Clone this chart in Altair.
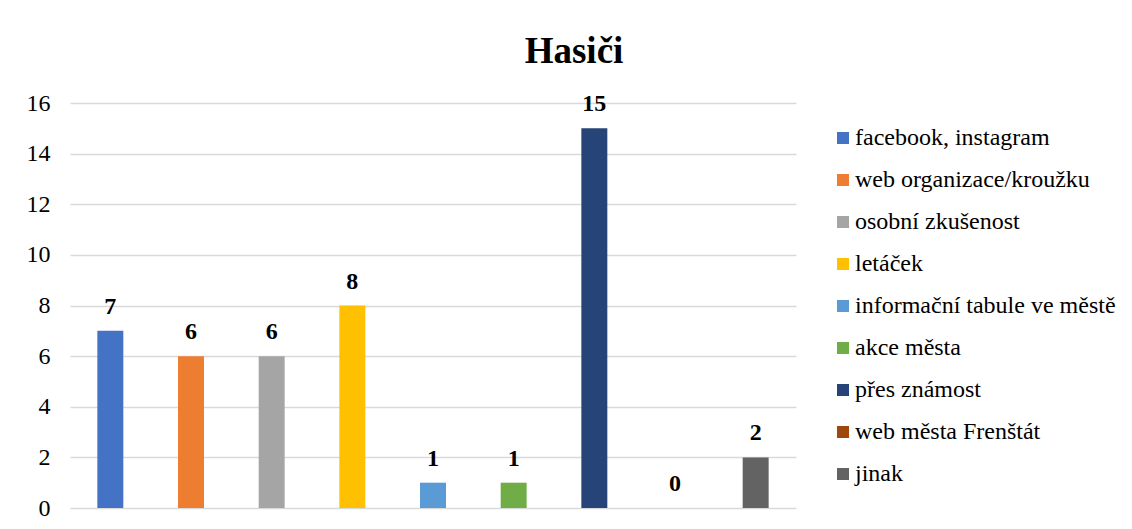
import altair as alt
import pandas as pd

categories = ["facebook, instagram", "web organizace/kroužku", "osobní zkušenost", "letáček",
              "informační tabule ve městě", "akce města", "přes známost", "web města Frenštát", "jinak"]
values = [7, 6, 6, 8, 1, 1, 15, 0, 2]
colors = ["#4472C4", "#ED7D31", "#A5A5A5", "#FFC000", "#5B9BD5", "#70AD47", "#264478", "#9E480E", "#636363"]
y_ticks = [0, 2, 4, 6, 8, 10, 12, 14, 16]

df = pd.DataFrame({"kategorie": categories, "pocet": values})

FONT = "Liberation Serif"

x = alt.X("kategorie:N", sort=categories, axis=None,
          scale=alt.Scale(paddingInner=0.678, paddingOuter=0.339))
y = alt.Y("pocet:Q", scale=alt.Scale(domain=[0, 16], nice=False),
          axis=alt.Axis(values=y_ticks, title=None, domain=False, ticks=False,
                        labelFont=FONT, labelFontSize=24, labelColor="#000000",
                        labelPadding=20, gridColor="#d9d9d9", gridWidth=1.5))

bars = alt.Chart(df).mark_bar().encode(
    x=x, y=y,
    color=alt.Color("kategorie:N", sort=categories,
                    scale=alt.Scale(domain=categories, range=colors),
                    legend=alt.Legend(title=None, orient="none", legendX=761, legendY=23,
                                      symbolType="square", symbolSize=144, symbolStrokeWidth=0,
                                      labelFont=FONT, labelFontSize=24, labelColor="#000000",
                                      rowPadding=18, padding=0, labelOffset=0, labelLimit=400)),
)

labels = alt.Chart(df).mark_text(dy=-17, baseline="alphabetic", font=FONT, fontSize=24,
                                 fontWeight="bold", color="#000000").encode(
    x=x, y=alt.Y("pocet:Q"), text=alt.Text("pocet:Q"))

chart = alt.layer(bars, labels).properties(
    width=726, height=405,
    title=alt.TitleParams(text="Hasiči", font=FONT, fontSize=37, fontWeight="bold",
                          color="#000000", dx=141, offset=20),
    autosize=alt.AutoSizeParams(type="none"),
    padding={"left": 62, "top": 95, "right": 328, "bottom": 13},
).configure_view(stroke=None)

chart.save("out.html", embed_options={"renderer": "svg", "actions": False})
